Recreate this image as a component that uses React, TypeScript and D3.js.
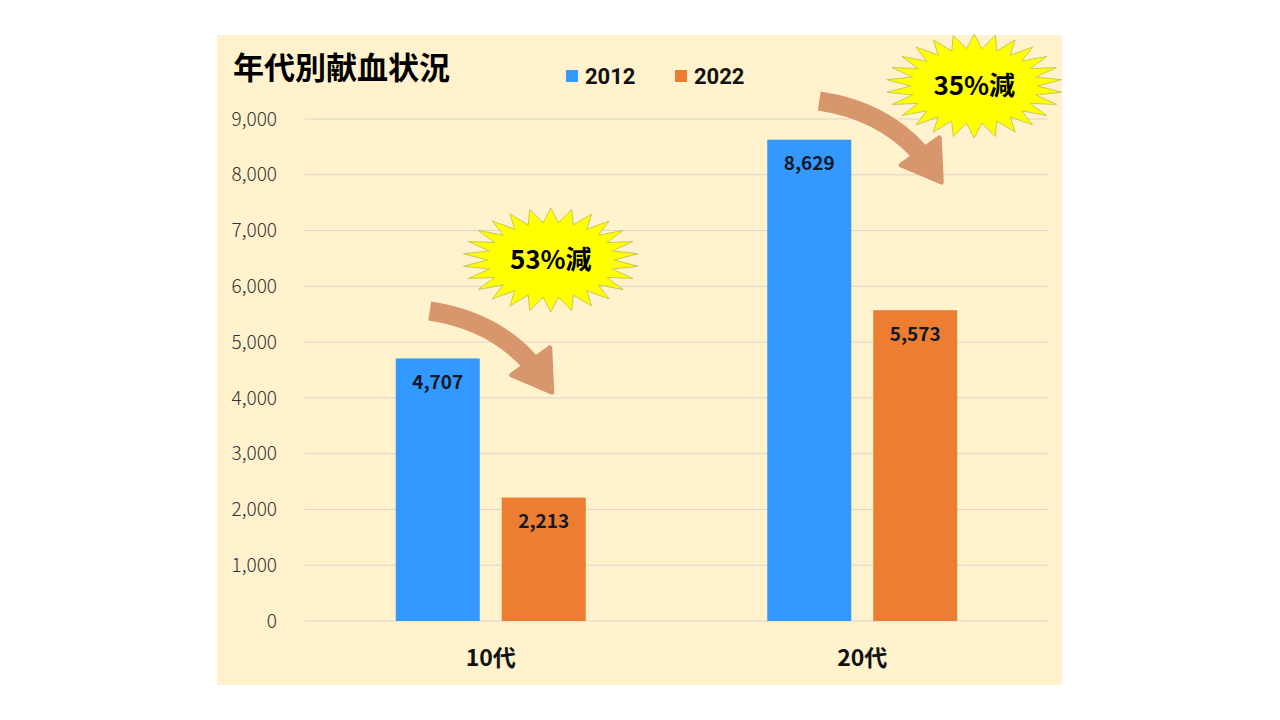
import React from "react";
import * as d3 from "d3";

const categories = ["10代", "20代"];
const seriesNames = ["2012", "2022"];
const values2012 = [4707, 8629];
const values2022 = [2213, 5573];
const yTicks = [0, 1000, 2000, 3000, 4000, 5000, 6000, 7000, 8000, 9000];
const reductionLabels = ["53%減", "35%減"];
const colors = ["#3399FF", "#ED7D31"];

const W = 1280, H = 720;
const JP = "'Noto Sans CJK JP', 'Noto Sans', sans-serif";

function starPath(cx: number, cy: number, rx: number, ry: number, n: number, inner: number) {
  const pts: [number, number][] = [];
  for (let i = 0; i < n * 2; i++) {
    const a = (Math.PI * i) / n - Math.PI / 2;
    const r = i % 2 === 0 ? 1 : inner;
    pts.push([cx + Math.cos(a) * rx * r, cy + Math.sin(a) * ry * r]);
  }
  return "M" + pts.map((p) => p.join(",")).join("L") + "Z";
}

// annotation layout (relative to category centre and chart pixels)
const annLayout = [
  { starDx: 60, starY: 260, ax: -61, ay: 311 },
  { starDx: 112, starY: 86, ax: -43, ay: 101 },
];

export default function App() {
  const left = 305, right = 1048, top = 119, bottom = 621;
  const y = d3.scaleLinear().domain([0, 9000]).range([bottom, top]);
  const x0 = d3.scaleBand().domain(categories).range([left, right]).paddingInner(0).paddingOuter(0);
  const barW = 84, gap = 22;
  const fmt = d3.format(",");
  const series = [values2012, values2022];
  const cx = (ci: number) => (x0(categories[ci]) as number) + x0.bandwidth() / 2;

  const barX = (ci: number, si: number) => {
    const c = cx(ci);
    return si === 0 ? c - gap / 2 - barW : c + gap / 2;
  };

  return (
    <svg width={W} height={H} style={{ position: "absolute", left: 0, top: 0 }}>
      <rect x={0} y={0} width={W} height={H} fill="#ffffff" />
      <rect x={217} y={35} width={845} height={650} fill="#FFF2CC" />
      {yTicks.map((t) => (
        <g key={t}>
          <line x1={left} x2={right} y1={y(t)} y2={y(t)} stroke="#D9D5D0" strokeWidth={1} />
          <text x={277} y={y(t)} dy="0.35em" textAnchor="end" fontFamily={JP} fontWeight={300} fontSize={19} fill="#333">
            {fmt(t)}
          </text>
        </g>
      ))}
      {series.map((vals, si) =>
        vals.map((v, ci) => (
          <g key={`${si}-${ci}`}>
            <rect x={barX(ci, si)} y={y(v)} width={barW} height={bottom - y(v)} fill={colors[si]} />
            <text x={barX(ci, si) + barW / 2} y={y(v) + 24} dy="0.35em" textAnchor="middle" fontFamily={JP} fontWeight={700} fontSize={19} fill="#111827">
              {fmt(v)}
            </text>
          </g>
        ))
      )}
      {categories.map((c, ci) => (
        <text key={c} x={cx(ci)} y={658} dy="0.35em" textAnchor="middle" fontFamily={JP} fontWeight={700} fontSize={23} fill="#111">
          {c}
        </text>
      ))}
      <text x={233} y={68} dy="0.35em" fontFamily={JP} fontWeight={700} fontSize={31} fill="#000">年代別献血状況</text>
      {seriesNames.map((s, i) => (
        <g key={s}>
          <rect x={566 + i * 109} y={70} width={12} height={12} fill={colors[i]} />
          <text x={585 + i * 109} y={76} dy="0.35em" fontFamily="Roboto, 'Noto Sans', sans-serif" fontWeight={700} fontSize={22} fill="#111">{s}</text>
        </g>
      ))}
      {annLayout.map((a, ci) => {
        const sx = cx(ci) + a.ax, sy = a.ay;
        const c1 = [sx + 40, sy + 6], c2 = [sx + 75, sy + 23], e = [sx + 100, sy + 51];
        const hl = [sx + 82, sy + 64], hr = [sx + 120, sy + 37], tip = [sx + 122, sy + 81];
        const scx = cx(ci) + a.starDx, scy = a.starY;
        return (
          <g key={ci}>
            <path d={`M${sx},${sy} C${c1[0]},${c1[1]} ${c2[0]},${c2[1]} ${e[0]},${e[1]}`} fill="none" stroke="#D8966C" strokeWidth={19} strokeLinecap="butt" />
            <path d={`M${hl[0]},${hl[1]} L${hr[0]},${hr[1]} L${tip[0]},${tip[1]} Z`} fill="#D8966C" stroke="#D8966C" strokeWidth={5} strokeLinejoin="round" />
            <path d={starPath(scx, scy, 88, 52, 26, 0.72)} fill="#FFFF00" stroke="#C8C85A" strokeWidth={1} />
            <text x={scx} y={scy} dy="0.35em" textAnchor="middle" fontFamily={JP} fontWeight={700} fontSize={26} fill="#000">
              {reductionLabels[ci]}
            </text>
          </g>
        );
      })}
    </svg>
  );
}
